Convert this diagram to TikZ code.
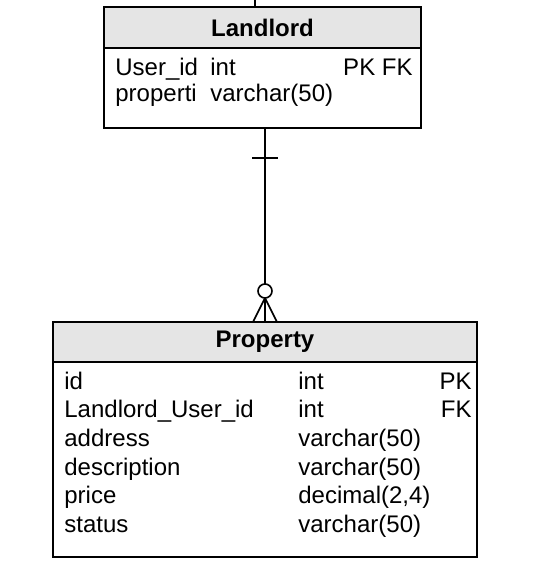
\documentclass[tikz,border=0pt]{standalone}
\usepackage{fontspec}
\setmainfont{Liberation Sans}
\usetikzlibrary{positioning}
\tikzset{
  tabhead/.style={rectangle, draw, line width=0.8pt, fill=black!10, inner sep=0pt,
                  font=\fontsize{12}{14}\selectfont\bfseries},
  tabbody/.style={rectangle, draw, line width=0.8pt, fill=white, inner sep=0pt},
  colname/.style={anchor=base west, inner sep=0pt},
  colkey/.style={anchor=base east, inner sep=0pt},
  relline/.style={line width=0.8pt}
}

\begin{document}
\begin{tikzpicture}[x=0.5pt, y=-0.5pt, every node/.style={font=\fontsize{12}{14}\selectfont}]
    \useasboundingbox (0,0) rectangle (556,585);
    % Landlord table
    \node[tabhead, minimum width=158.5pt, minimum height=20.5pt] (lhead) at (262.5,27.5) {Landlord};
    \node[tabbody, minimum width=158.5pt, minimum height=40pt] (lbody) at (262.5,88) {};
    \node[colname] (luser)  at (115,75)    {User\_id};
    \node[colname] (luserT) at (210,75)    {int};
    \node[colkey]  (luserK) at (413,75)    {PK FK};
    \node[colname] (lprop)  at (115,101.5) {properti};
    \node[colname] (lpropT) at (210,101.5) {varchar(50)};
    % Property table
    \node[tabhead, minimum width=212pt, minimum height=20pt] (phead) at (265,342) {Property};
    \node[tabbody, minimum width=212pt, minimum height=97.5pt] (pbody) at (265,459.5) {};
    \node[colname] (pid)     at (64,389)    {id};
    \node[colname] (pidT)    at (298,389)   {int};
    \node[colkey]  (pidK)    at (472,389)   {PK};
    \node[colname] (plord)   at (64,417.7)  {Landlord\_User\_id};
    \node[colname] (plordT)  at (298,417.7) {int};
    \node[colkey]  (plordK)  at (472,417.7) {FK};
    \node[colname] (paddr)   at (64,446.4)  {address};
    \node[colname] (paddrT)  at (298,446.4) {varchar(50)};
    \node[colname] (pdesc)   at (64,475.1)  {description};
    \node[colname] (pdescT)  at (298,475.1) {varchar(50)};
    \node[colname] (pprice)  at (64,503.8)  {price};
    \node[colname] (ppriceT) at (298,503.8) {decimal(2,4)};
    \node[colname] (pstat)   at (64,532.5)  {status};
    \node[colname] (pstatT)  at (298,532.5) {varchar(50)};
    % relations
    \coordinate (ltop) at (255,0);
    \draw[relline] (ltop) -- (ltop |- lhead.north);
    \draw[relline] (phead.north) -- (phead.north |- lbody.south);
    \draw[relline] (252,158) -- (278,158);
    \draw[relline] (265,298) -- (253,322);
    \draw[relline] (265,298) -- (277,322);
    \draw[relline, fill=white] (265,291) circle (3.5pt);
  \end{tikzpicture}
\end{document}
